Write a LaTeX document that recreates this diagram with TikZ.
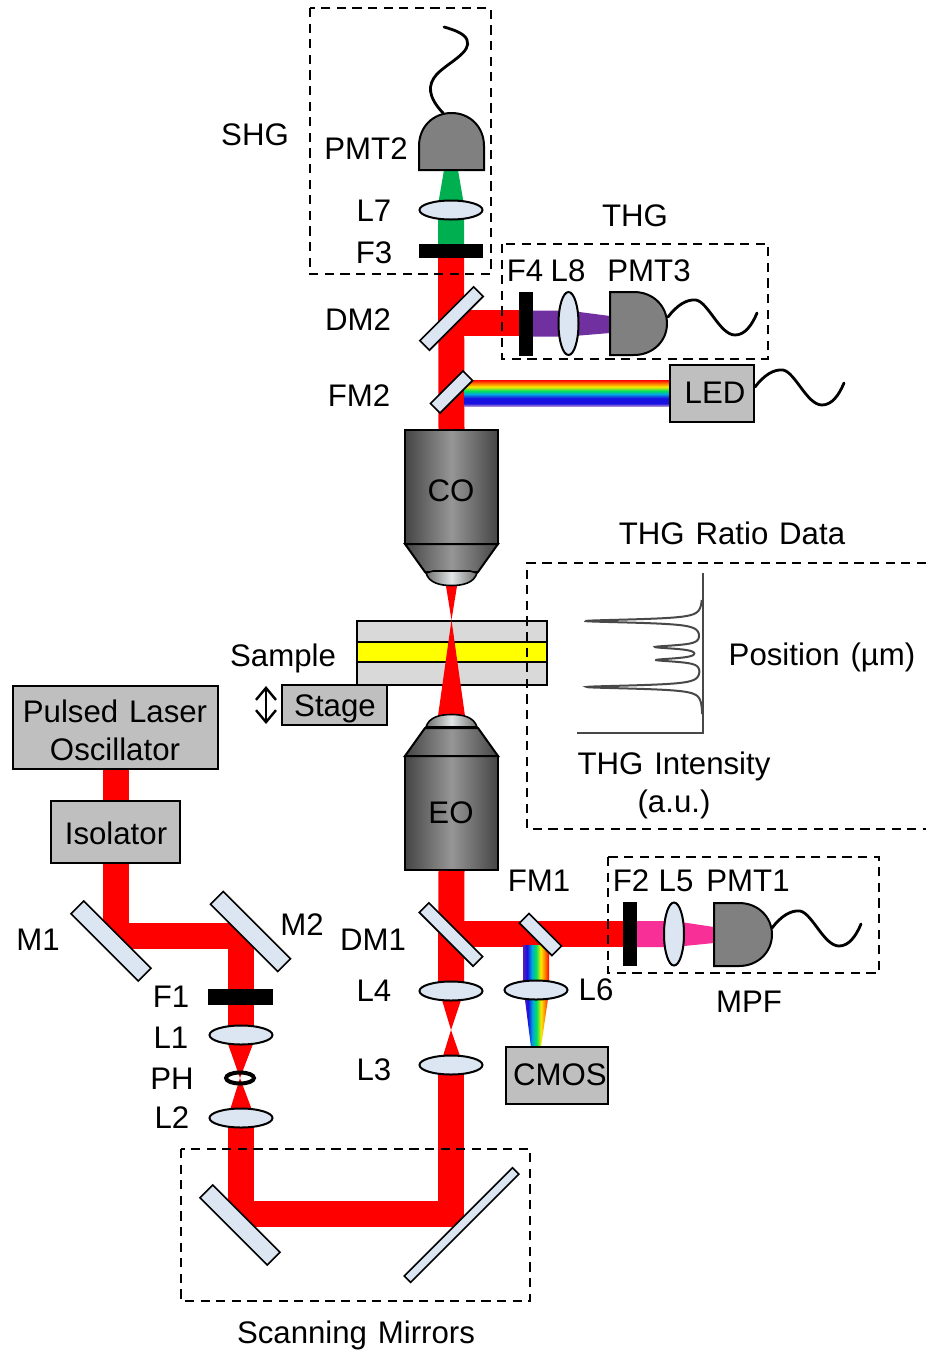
\documentclass[tikz,border=0pt]{standalone}
\usepackage{fontspec}
\setmainfont{Liberation Sans}[Kerning=Off, WordSpace=1.25]
\usepackage{xcolor}
\definecolor{beamred}{HTML}{FF0000}
\definecolor{beamgreen}{HTML}{00B050}
\definecolor{beampurple}{HTML}{7030A0}
\definecolor{beampink}{HTML}{F72F96}
\definecolor{instgray}{HTML}{BFBFBF}
\definecolor{pmtgray}{HTML}{808080}
\definecolor{glassblue}{HTML}{DCE6F2}
\definecolor{samplegray}{HTML}{D9D9D9}
\definecolor{sampleyellow}{HTML}{FFFF00}
\definecolor{objdark}{HTML}{454545}
\definecolor{objmid}{HTML}{969696}
\definecolor{objrim}{HTML}{6E6E6E}
\definecolor{objglass}{HTML}{E2E6E6}
\definecolor{plotgray}{HTML}{484848}
\definecolor{rbviolet}{HTML}{5A20B8}
\definecolor{rbblue}{HTML}{1810E0}
\definecolor{rbcyan}{HTML}{00A8E0}
\definecolor{rbgreen}{HTML}{00E060}
\definecolor{rbyellow}{HTML}{FFE800}
\definecolor{rborange}{HTML}{FF8000}
\usepackage{tikz}
\usetikzlibrary{
  positioning, arrows.meta, shapes.geometric
}
\pgfdeclarehorizontalshading{rainbowx}{100bp}{
  color(0bp)=(rbviolet); color(25bp)=(rbviolet); color(33bp)=(rbblue);
  color(42bp)=(rbcyan); color(50bp)=(rbgreen); color(59bp)=(rbyellow);
  color(67bp)=(rborange); color(75bp)=(red); color(100bp)=(red)
}
\pgfdeclareverticalshading{rainbowy}{100bp}{
  color(0bp)=(rbviolet!55!white); color(25bp)=(rbviolet!55!white); color(30bp)=(rbblue);
  color(40bp)=(rbblue); color(48bp)=(rbcyan); color(54bp)=(rbgreen);
  color(62bp)=(rbyellow); color(68bp)=(rborange); color(75bp)=(red); color(100bp)=(red)
}
\tikzset{
  every node/.style={font=\fontsize{15.6}{19}\selectfont},
  partlabel/.style={inner sep=0pt, align=center},
  instbox/.style={
    rectangle, draw=black, fill=instgray, line width=1pt, inner sep=0pt
  },
  objbody/.style={
    rectangle, draw=black, line width=1pt, inner sep=0pt,
    minimum width=46.5pt, minimum height=57pt,
    left color=objdark, right color=objdark, middle color=objmid
  },
  objshade/.style={
    draw=black, line width=1pt,
    left color=objdark, right color=objdark, middle color=objmid
  },
  objlens/.style={
    draw=black, line width=0.8pt,
    left color=objrim, right color=objrim, middle color=objglass
  },
  mirror/.style={
    rectangle, draw=black, fill=glassblue, line width=0.8pt, inner sep=0pt
  },
  lens/.style={
    ellipse, draw=black, fill=glassblue, line width=1pt, inner sep=0pt
  },
  lensflat/.style={lens, minimum width=31.5pt, minimum height=9.5pt},
  lensup/.style={lens, minimum width=10pt, minimum height=31.5pt},
  blockfilter/.style={rectangle, fill=black, inner sep=0pt},
  pmt/.style={draw=black, fill=pmtgray, line width=1pt},
  wire/.style={draw=black, line width=1.4pt, line cap=round},
  redbeam/.style={draw=beamred, line width=13pt},
  detbox/.style={draw=black, line width=1.2pt, dash pattern=on 4.6pt off 3.2pt},
  samplelayer/.style={
    rectangle, draw=black, line width=1pt, inner sep=0pt, minimum width=95pt
  },
  plotline/.style={draw=plotgray, line width=1pt}
}
\begin{document}
\begin{tikzpicture}[x=0.5pt, y=-0.5pt]
\useasboundingbox (0,0) rectangle (927,1350);

% Sample stack
\node[samplelayer, fill=samplegray, minimum height=32pt] (sample) at (452,652.5) {};
\node[samplelayer, fill=sampleyellow, minimum height=10pt] (film) at (452,652) {};

% Beam bends
\coordinate (bendmone) at (115.5,936);
\coordinate (bendmtwo) at (241,936);
\coordinate (bendsone) at (241,1213.5);
\coordinate (bendstwo) at (451,1213.5);
\coordinate (bendfone) at (451,934);
\coordinate (bendftwo) at (451,323);
\coordinate (endftwo) at (630,934);
\coordinate (endfthree) at (451,251);
\coordinate (endffour) at (525.5,323);

% Boxes and bodies that the beams run to
\node[instbox, minimum width=102.5pt, minimum height=41.5pt] (laser) at (115.5,727.5) {};
\node[instbox, minimum width=64.5pt, minimum height=31pt] (isolator) at (115.5,832) {};
\node[objbody] (co) at (451.5,487) {};
\node[objbody] (eo) at (451.5,813) {};

% Red laser path
\draw[redbeam] (laser.south) -- (isolator.north);
\draw[redbeam, line join=bevel] (isolator.south) -- (bendmone) -- (bendmtwo) -- (bendsone |- 0,1035);
\draw[redbeam, line join=bevel] (241,1118) -- (bendsone) -- (bendstwo);
\draw[redbeam, line join=miter] (bendsone) -- (bendstwo) -- (451,1065);
\draw[redbeam] (451,991) -- (eo.south);
\draw[redbeam] (bendfone) -- (endftwo);
\draw[redbeam] (co.north) -- (endfthree);
\draw[redbeam] (bendftwo) -- (endffour);

% Focused red sections
\fill[beamred] (228,1044) -- (253,1044) -- (240,1078) -- (230,1110) -- (252,1110) -- (240,1078) -- cycle;
\fill[beamred] (442,1000) -- (461,1000) -- (451,1030) -- (443,1056) -- (460,1056) -- (451,1030) -- cycle;
\fill[beamred] (446,586) -- (457,586) -- (451.5,620) -- (438,716) -- (465,716) -- (451.5,620) -- cycle;

% Signal beams behind the detectors
\fill[beamgreen] (438,244) -- (464,244) -- (464,205) -- (458,170) -- (444,170) -- (438,205) -- cycle;
\fill[beampurple] (529,310.5) -- (568,310.5) -- (610,316) -- (610,333) -- (568,336.5) -- (529,336.5) -- cycle;
\fill[beampink] (634,921) -- (674,921) -- (714,927) -- (714,943) -- (674,947) -- (634,947) -- cycle;

% White light paths
\shade[shading=rainbowy] (464,380) rectangle (670,406);
\shade[shading=rainbowx] (523,945) rectangle (549,990);
\shade[shading=rainbowx] (524,992) -- (549,992) -- (541,1047) -- (531,1047) -- cycle;

% Filters
\node[blockfilter, minimum width=32.5pt, minimum height=8pt] (fone) at (240.5,997) {};
\node[blockfilter, minimum width=32pt, minimum height=7pt] (fthree) at (451,251) {};
\node[blockfilter, minimum width=7pt, minimum height=32pt] (ffour) at (525.5,323.5) {};
\node[blockfilter, minimum width=7pt, minimum height=32pt] (ftwo) at (630,934) {};

% Detectors
\draw[pmt] (419,170) -- (419,146) .. controls (419,127) and (433,113) .. (451.5,113)
  .. controls (470,113) and (484,127) .. (484,146) -- (484,170) -- cycle;
\draw[pmt] (610,292) -- (634,292) .. controls (653,292) and (667,306) .. (667,323.5)
  .. controls (667,341) and (653,355) .. (634,355) -- (610,355) -- cycle;
\draw[pmt] (714,903) -- (739,903) .. controls (758,903) and (772,917) .. (772,934.5)
  .. controls (772,952) and (758,966) .. (739,966) -- (714,966) -- cycle;

% Signal wires
\draw[wire] (443,113) .. controls (428,97) and (427,85) .. (437,74)
  .. controls (449,62) and (472,52) .. (467,40) .. controls (465,34) and (455,30) .. (444,27);
\foreach \px/\py in {668/317, 755/387, 772/928} {
  \draw[wire, shift={(\px,\py)}] (0,0) .. controls (9,-12) and (19,-18) .. (28,-17)
    .. controls (40,-15) and (52,18) .. (67,18) .. controls (77,18) and (84,8) .. (89,-4);
}

% Boxes without a beam through them
\node[instbox, minimum width=42pt, minimum height=28.5pt] (led) at (712,393) {};
\node[instbox, minimum width=51pt, minimum height=28.5pt] (cmos) at (557,1075.5) {};
\node[instbox, minimum width=52.5pt, minimum height=20pt] (stage) at (334.5,705) {};

% Objectives
\path[objshade] (405,544) -- (425,572) -- (478,572) -- (498,544) -- cycle;
\path[objlens] (426,573) .. controls (429,583) and (440,585.5) .. (451.5,585.5)
  .. controls (463,585.5) and (474,583) .. (477,573) -- (470,571) -- (433,571) -- cycle;
\path[objshade] (405,756) -- (425,728) -- (478,728) -- (498,756) -- cycle;
\path[objlens] (426,727) .. controls (429,717) and (440,714.5) .. (451.5,714.5)
  .. controls (463,714.5) and (474,717) .. (477,727) -- cycle;

% Mirrors
\node[mirror, rotate=-45, minimum width=47.5pt, minimum height=9pt] (mone) at (111,941) {};
\node[mirror, rotate=-45, minimum width=47.5pt, minimum height=9pt] (mtwo) at (250.5,931.5) {};
\node[mirror, rotate=-45, minimum width=47.5pt, minimum height=9pt] (sone) at (240,1225) {};
\node[mirror, rotate=45, minimum width=76.5pt, minimum height=4.5pt] (stwo) at (461.5,1225) {};
\node[mirror, rotate=-45, minimum width=38pt, minimum height=6.8pt] (dmone) at (451,934.5) {};
\node[mirror, rotate=-45, minimum width=23pt, minimum height=6.8pt] (fmone) at (540.5,934.5) {};
\node[mirror, rotate=45, minimum width=38pt, minimum height=6.8pt] (dmtwo) at (451.5,318.5) {};
\node[mirror, rotate=45, minimum width=23pt, minimum height=6.8pt] (fmtwo) at (451.5,392) {};

% Lenses
\node[lensflat] (lone) at (241,1035) {};
\node[lensflat] (ltwo) at (241,1118) {};
\node[lensflat] (lthree) at (451,1065) {};
\node[lensflat] (lfour) at (451,991) {};
\node[lensflat] (lsix) at (536,990) {};
\node[lensflat] (lseven) at (451,210) {};
\node[lensup] (lfive) at (674,934) {};
\node[lensup] (leight) at (568.5,323.5) {};
\node[ellipse, draw=black, line width=2pt, inner sep=0pt, minimum width=14pt, minimum height=5.5pt] (pinhole) at (240,1078) {};

% Stage travel
\draw[{Straight Barb[length=6pt, width=10pt]}-{Straight Barb[length=6pt, width=10pt]}, line width=1.2pt]
  (stage.west) ++(-15,-19) coordinate (travelup) -- ++(0,38) coordinate (traveldown);

% THG ratio trace
\draw[plotgray, line width=1pt] (703,573) -- (703,733) -- (577,733);
\draw[plotline] plot[domain=600:714, samples=460, variable=\t, smooth]
  ({703-117/(1+((\t-621)/2)^2)-46/(1+((\t-647)/2)^2)-45/(1+((\t-660)/2)^2)-116/(1+((\t-687)/2)^2)}, \t);

% Dashed groups
\draw[detbox] (310,8) rectangle (491,274);
\draw[detbox] (502,244) rectangle (768,359);
\draw[detbox] (608,857) rectangle (879,973);
\draw[detbox] (181,1149) rectangle (530,1301);
\draw[detbox] (926,563) -- (527,563) -- (527,829) -- (926,829);

% Labels
\foreach \name/\px/\py/\txt in {
  tshg/255/135/SHG, tpmttwo/366/149/PMT2, tlseven/374/211/L7, tfthree/374/253/F3,
  tthg/635/216/THG, tffour/525/271/F4, tleight/568/271/L8, tpmtthree/649/271/PMT3,
  tdmtwo/358/320/DM2, tfmtwo/359/396/FM2, tled/715/393/LED, tco/451/491/CO, teo/451/813/EO,
  tratio/732/533/THG Ratio Data, tpos/822/657/Position (µm), tsample/283/658/Sample,
  tstage/335/709/Stage, tiso/116/833/Isolator,
  tfmone/539/881/FM1, tftwo/631/881/F2, tlfive/676/881/L5, tpmtone/748/881/PMT1,
  tdmone/373/940/DM1, tmone/38/940/M1, tmtwo/302/925/M2, tfone/171/997/F1,
  tlone/171/1038/L1, tph/172/1079/PH, tltwo/172/1118/L2, tlfour/374/991/L4,
  tlthree/374/1070/L3, tlsix/596/990/L6, tmpf/749/1002/MPF, tcmos/560/1075/CMOS,
  tscan/356/1335/Scanning Mirrors} {
  \node[partlabel] (\name) at (\px,\py) {\txt};
}
\node[partlabel] (tlaser) at (115,730) {Pulsed Laser\\Oscillator};
\node[partlabel] (tint) at (674,785) {THG Intensity\\(a.u.)};

\end{tikzpicture}
\end{document}
